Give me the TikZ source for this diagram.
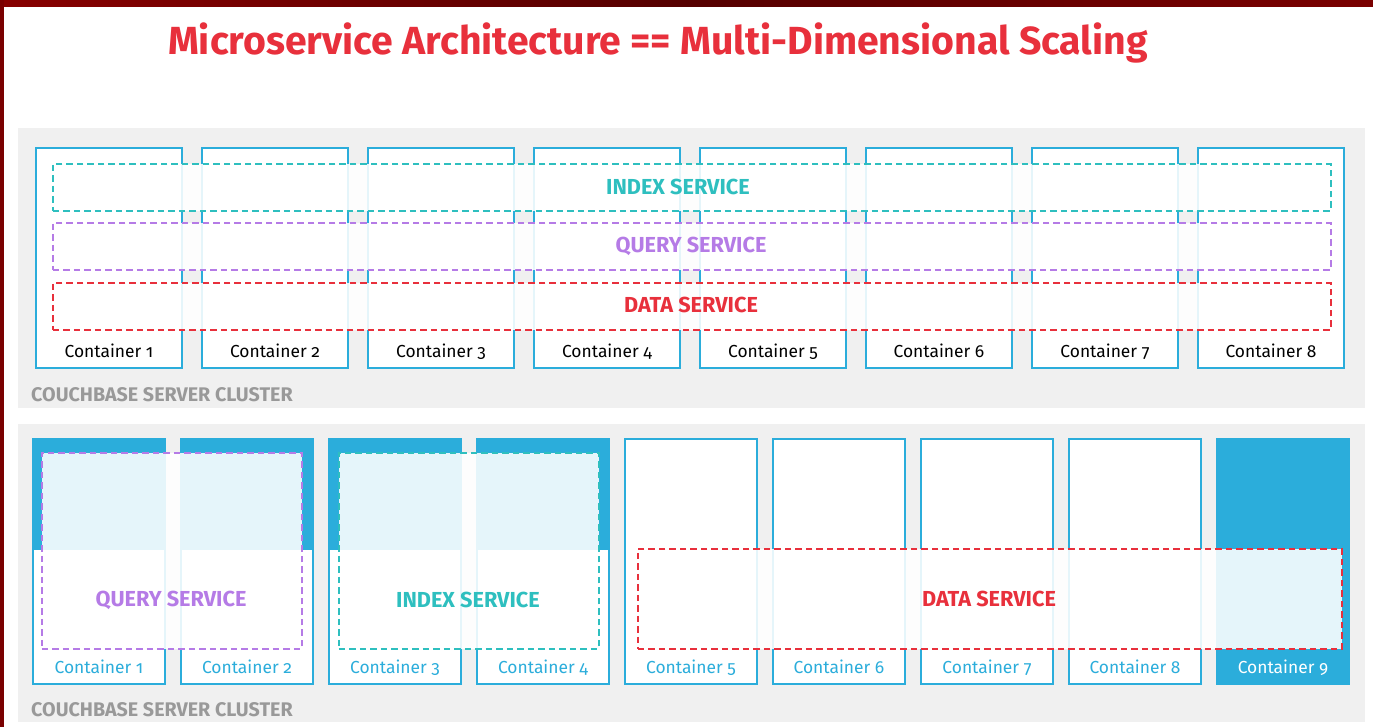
\documentclass[tikz,border=0pt]{standalone}
\usepackage{fontspec}
\setmainfont{Fira Sans}[Numbers=OldStyle]
\definecolor{cblue}{HTML}{2BADDB}
\definecolor{cred}{HTML}{E8303C}
\definecolor{cteal}{HTML}{2EBFBF}
\definecolor{cpurple}{HTML}{B57BE6}
\definecolor{cbg}{HTML}{F0F0F0}
\definecolor{cgraytext}{HTML}{999999}
\definecolor{frame}{HTML}{7A0000}
\tikzset{
  cluster/.style={fill=cbg, draw=none},
  topbox/.style={draw=cblue, line width=2.6pt, fill=white, minimum width=146pt, minimum height=220pt, inner sep=0pt},
  botbox/.style={draw=cblue, line width=2.6pt, fill=white, minimum width=132pt, minimum height=245pt, inner sep=0pt},
  svc/.style={draw=#1, dashed, dash pattern=on 6.5pt off 4pt, line width=1.9pt, fill=white, fill opacity=0.88, draw opacity=1, inner sep=0pt},
  svclabel/.style={text=#1, font=\bfseries\fontsize{21.7}{25}\selectfont, inner sep=0pt},
  clabel/.style={text=#1, font=\fontsize{17.4}{20}\selectfont, inner sep=0pt, anchor=base},
  clusterlabel/.style={text=cgraytext, font=\bfseries\fontsize{19.7}{23}\selectfont, inner sep=0pt, anchor=base west}
}
\begin{document}
\begin{tikzpicture}[x=1pt,y=-1pt]
\useasboundingbox (0,0) rectangle (1373,727);
\fill[white] (0,0) rectangle (1373,727);
% frame strips
\shade[left color=frame!90!red, right color=frame, middle color=frame!70!black] (0,0) rectangle (1373,7);
\fill[frame] (0,0) rectangle (4,727);
% title
\node[anchor=base, text=cred, font=\bfseries\fontsize{39.2}{46}\selectfont, inner sep=0pt] (title) at (658,55) {Microservice Architecture == Multi-Dimensional Scaling};

% ---------- top cluster ----------
\node[cluster, anchor=north west, minimum width=1347pt, minimum height=280pt, inner sep=0pt] (cl1) at (18,128) {};
\foreach \i in {1,...,8} {
  \node[topbox] (t\i) at ({109+166*(\i-1)},258) {};
}
\node[svc=cteal, anchor=north west, minimum width=1278pt, minimum height=47pt] (tidx) at (52,163) {};
\node[svc=cpurple, anchor=north west, minimum width=1278pt, minimum height=47pt] (tqry) at (52,222) {};
\node[svc=cred, anchor=north west, minimum width=1278pt, minimum height=47pt] (tdat) at (52,282) {};
\node[svclabel=cteal] (tidxl) at (678,187) {INDEX SERVICE};
\node[svclabel=cpurple] (tqryl) at (691,246) {QUERY SERVICE};
\node[svclabel=cred] (tdatl) at (691,305) {DATA SERVICE};
\foreach \i in {1,...,8} {
  \node[clabel=black] (tl\i) at ({109+166*(\i-1)},357) {Container \i};
}
\node[clusterlabel] (cl1l) at (31,401) {COUCHBASE SERVER CLUSTER};

% ---------- bottom cluster ----------
\node[cluster, anchor=north west, minimum width=1347pt, minimum height=298pt, inner sep=0pt] (cl2) at (18,424) {};
\foreach \i in {1,...,8} {
  \node[botbox] (b\i) at ({99+148*(\i-1)},561.5) {};
}
\node[botbox, fill=cblue] (b9) at ({99+148*8},561.5) {};
\foreach \i in {1,...,4} {
  \fill[cblue] (b\i.north west) rectangle (b\i.east |- 0,550);
}
\node[svc=cpurple, anchor=north west, minimum width=260pt, minimum height=196pt] (bqry) at (41,452) {};
\node[svc=cteal, anchor=north west, minimum width=260pt, minimum height=196pt] (bidx) at (338,452) {};
\node[svc=cred, anchor=north west, minimum width=704pt, minimum height=100pt] (bdat) at (637,548) {};
\node[svclabel=cpurple] (bqryl) at (171,600) {QUERY SERVICE};
\node[svclabel=cteal] (bidxl) at (468,600) {INDEX SERVICE};
\node[svclabel=cred] (bdatl) at (989,599) {DATA SERVICE};
\foreach \i in {1,...,8} {
  \node[clabel=cblue] (bl\i) at ({99+148*(\i-1)},673) {Container \i};
}
\node[clabel=white] (bl9) at ({99+148*8},673) {Container 9};
\node[clusterlabel] (cl2l) at (31,716) {COUCHBASE SERVER CLUSTER};
\end{tikzpicture}
\end{document}
